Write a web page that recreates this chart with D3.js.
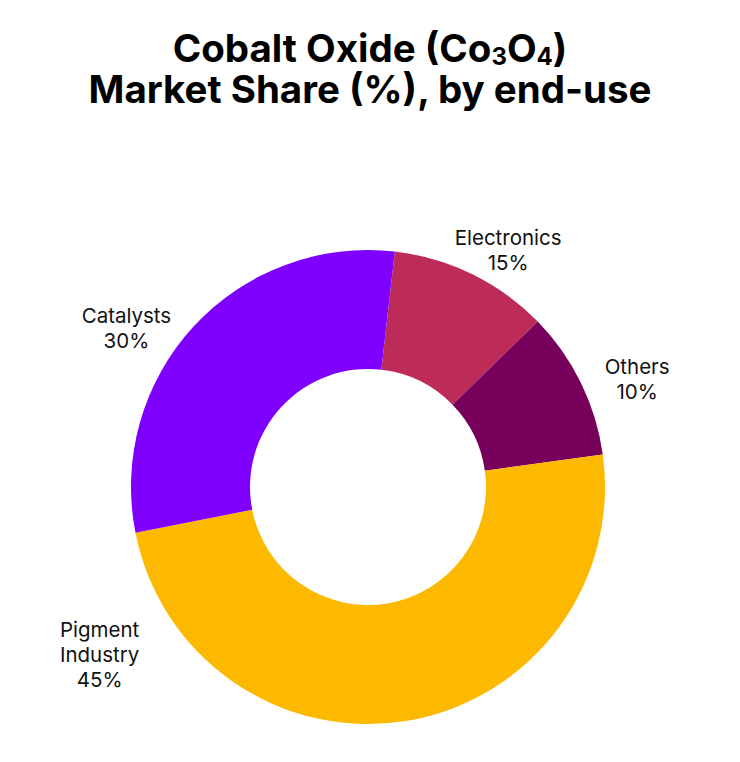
<!DOCTYPE html>
<html lang="en">
  <head>
    <meta charset="UTF-8" />
    <title>Cobalt Oxide Market Share</title>
    <style>
      html, body { margin: 0; padding: 0; background: #fff; }
      svg { display: block; }
      .title { font-family: Inter, 'Noto Sans', sans-serif; font-weight: 700; font-size: 38.5px; fill: #000; }
      .label { font-family: Inter, 'Noto Sans', sans-serif; font-size: 20.5px; fill: #111; }
    </style>
    <script src="https://cdn.jsdelivr.net/npm/d3@7"></script>
  </head>
  <body>
    <svg width="740" height="762"></svg>
    <script>
      // categories in clockwise order, starting just right of 12 o'clock
      var categories = ['Electronics', 'Others', 'Pigment Industry', 'Catalysts']
      // percentages printed in the labels
      var labelShares = [15, 10, 45, 30]
      // slice sizes as they are actually drawn in the picture (they don't match the labels exactly)
      var sliceShares = [10.9, 10.1, 49.1, 29.9]
      var colors = ['#bd2b58', '#77005c', '#fdb900', '#7f00ff']

      var width = 740
      var cx = 368, cy = 487
      var outerR = 237, innerR = 118
      var start = 6.5 * Math.PI / 180

      var svg = d3.select('svg')

      // title, with subscripts in Co3O4
      var title = svg.append('text').attr('class', 'title').attr('text-anchor', 'middle')
      var l1 = title.append('tspan').attr('x', width / 2).attr('y', 62)
      l1.append('tspan').text('Cobalt Oxide (Co')
      l1.append('tspan').attr('font-size', '24px').attr('dy', 3).text('3')
      l1.append('tspan').attr('dy', -3).text('O')
      l1.append('tspan').attr('font-size', '24px').attr('dy', 3).text('4')
      l1.append('tspan').attr('dy', -3).text(')')
      title.append('tspan').attr('x', width / 2).attr('y', 103).text('Market Share (%), by end-use')

      var data = categories.map(function(c, i) {
        return { name: c, label: labelShares[i], value: sliceShares[i], color: colors[i] }
      })

      var pie = d3.pie()
        .sort(null)
        .value(function(d) { return d.value })
        .startAngle(start)
        .endAngle(start + 2 * Math.PI)

      var arc = d3.arc().innerRadius(innerR).outerRadius(outerR)

      var g = svg.append('g').attr('transform', `translate(${cx}, ${cy})`)

      g.selectAll('path')
        .data(pie(data))
        .enter()
        .append('path')
        .attr('d', arc)
        .attr('fill', function(d) { return d.data.color })

      // label placement (angle in degrees clockwise from top, distance from centre)
      var labelLayout = {
        'Electronics': { angle: 30.7, r: 274.5 },
        'Others': { angle: 68.3, r: 289.7 },
        'Pigment Industry': { angle: 237.9, r: 316.8 },
        'Catalysts': { angle: 303.2, r: 288.7 }
      }
      var lineH = 25

      data.forEach(function(d) {
        var p = labelLayout[d.name]
        var a = p.angle * Math.PI / 180
        var x = p.r * Math.sin(a)
        var y = -p.r * Math.cos(a)
        var lines = d.name.split(' ').concat([d.label + '%'])
        var t = g.append('text').attr('class', 'label').attr('text-anchor', 'middle')
        lines.forEach(function(s, i) {
          t.append('tspan')
            .attr('x', x)
            .attr('y', y + (i - (lines.length - 1) / 2) * lineH + 6.5)
            .text(s)
        })
      })
    </script>
  </body>
</html>
